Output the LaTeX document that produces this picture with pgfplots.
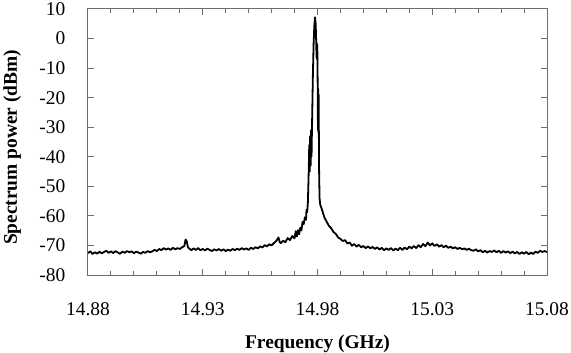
\documentclass[border=0pt]{standalone}
\usepackage{pgfplots}
\pgfplotsset{compat=1.18}
\usepackage{fontspec}
\setmainfont{Liberation Serif}
\begin{document}
\fontsize{19.5}{22}\selectfont
\begin{tikzpicture}
\begin{axis}[
  name=ax, at={(0,0)}, anchor=south west,
  scale only axis, width=459bp, height=266bp,
  xmin=14.88, xmax=15.08, ymin=-80, ymax=10,
  axis line style={draw=gray!85!black, line width=1bp},
  every tick/.style={draw=gray!85!black, line width=1bp},
  tick align=inside,
  xtick={14.88,14.93,14.98,15.03,15.08},
  xticklabels={14.88,14.93,14.98,15.03,15.08},
  minor x tick num=4,
  major tick length=6bp, minor tick length=4.5bp,
  ytick={-80,-70,-60,-50,-40,-30,-20,-10,0,10},
  yticklabels={-80,-70,-60,-50,-40,-30,-20,-10,0,10},
  xtick pos=both, ytick pos=both,
  /pgf/number format/assume math mode=true,
  ticklabel style={font=\fontsize{19.5}{22}\selectfont},
  xticklabel style={yshift=-21bp},
  yticklabel style={xshift=-16bp},
  xlabel={\textbf{Frequency (GHz)}},
  ylabel={\textbf{Spectrum power (dBm)}},
  label style={font=\fontsize{19.5}{22}\selectfont},
  xlabel style={at={(axis description cs:0.5,0)}, anchor=south, yshift=-78bp, inner sep=0pt},
  ylabel style={at={(axis description cs:-0.185,0.48)}, anchor=north, rotate=0, inner sep=0pt},
]
\addplot[black, line width=1.8bp, line join=round] coordinates {
(14.880,-72.6)(14.881,-72.0)(14.882,-72.9)(14.883,-72.3)(14.884,-72.8)(14.885,-72.1)(14.886,-72.7)(14.887,-72.2)(14.888,-71.8)(14.889,-72.5)
(14.890,-72.0)(14.891,-72.6)(14.892,-71.9)(14.893,-72.4)(14.894,-72.8)(14.895,-72.1)(14.896,-72.5)(14.897,-71.9)(14.898,-72.3)(14.899,-72.0)
(14.900,-72.6)(14.901,-72.1)(14.902,-72.4)(14.903,-72.8)(14.904,-72.2)(14.905,-72.5)(14.906,-71.9)(14.907,-72.3)(14.908,-72.0)(14.909,-71.5)
(14.910,-71.9)(14.911,-71.2)(14.912,-71.6)(14.913,-70.9)(14.914,-71.4)(14.915,-71.0)(14.916,-71.5)(14.917,-70.8)(14.918,-71.3)(14.919,-70.9)
(14.920,-71.2)(14.921,-70.6)(14.922,-70.2)(14.9225,-68.0)(14.923,-68.5)(14.9235,-70.5)(14.924,-71.0)(14.925,-71.6)(14.926,-71.0)(14.927,-71.5)
(14.928,-70.9)(14.929,-71.6)(14.930,-71.2)(14.931,-71.7)(14.932,-71.1)(14.933,-71.5)(14.934,-71.9)(14.935,-71.3)(14.936,-71.7)(14.937,-71.2)
(14.938,-71.8)(14.939,-71.3)(14.940,-71.9)(14.941,-71.4)(14.942,-71.8)(14.943,-71.2)(14.944,-71.6)(14.945,-71.1)(14.946,-71.5)(14.947,-70.9)
(14.948,-71.4)(14.949,-71.0)(14.950,-71.5)(14.951,-70.8)(14.952,-71.2)(14.953,-70.6)(14.954,-71.0)(14.955,-70.3)(14.956,-70.7)(14.957,-69.9)
(14.958,-70.3)(14.959,-69.6)(14.960,-70.0)(14.961,-69.2)(14.962,-68.5)(14.963,-67.3)(14.9635,-68.8)(14.964,-69.2)(14.965,-68.4)(14.966,-68.9)
(14.967,-67.5)(14.968,-68.2)(14.969,-66.8)(14.970,-67.6)(14.9705,-65.2)(14.971,-67.0)(14.9715,-64.8)(14.972,-66.2)(14.9725,-64.0)(14.973,-64.9)
(14.9735,-62.0)(14.974,-62.8)(14.9745,-60.5)(14.975,-61.3)(14.9752,-58.0)(14.9755,-58.8)(14.9758,-55.5)(14.9760,-50)
(14.9762,-44)(14.9764,-36)(14.9766,-45)(14.9768,-33)(14.9770,-43)(14.9772,-31)(14.9774,-40)(14.9776,-30)
(14.9780,-12)(14.9783,-2)(14.9786,4)(14.9789,7.2)(14.9792,5)(14.9794,0)
(14.9796,-6.5)(14.9797,-1.5)(14.9798,-7)(14.9799,-2)(14.9800,-9)(14.9801,-18)(14.9802,-31)(14.9803,-17)(14.9804,-32)(14.9805,-19)(14.9806,-33)
(14.9807,-45)(14.9809,-54)(14.9812,-56.3)(14.9818,-57.5)(14.983,-60.5)(14.984,-62.0)(14.985,-63.4)(14.986,-64.2)(14.987,-65.5)(14.988,-66.1)
(14.989,-67.3)(14.990,-67.8)(14.991,-68.5)(14.992,-68.2)(14.993,-69.3)(14.994,-69.0)(14.995,-70.1)(14.996,-69.5)(14.997,-70.4)(14.998,-69.8)
(14.999,-70.6)(15.000,-70.2)(15.001,-70.9)(15.002,-70.3)(15.003,-71.0)(15.004,-70.5)(15.005,-71.2)(15.006,-70.6)(15.007,-71.4)(15.008,-70.8)
(15.009,-71.6)(15.010,-71.0)(15.011,-71.5)(15.012,-70.9)(15.013,-71.7)(15.014,-71.1)(15.015,-71.6)(15.016,-70.8)(15.017,-71.5)(15.018,-70.7)
(15.019,-71.3)(15.020,-70.4)(15.021,-71.0)(15.022,-70.2)(15.023,-70.9)(15.024,-69.9)(15.025,-70.6)(15.026,-69.5)(15.027,-70.3)(15.028,-69.0)
(15.029,-70.0)(15.030,-69.3)(15.031,-70.2)(15.032,-69.6)(15.033,-70.4)(15.034,-69.9)(15.035,-70.6)(15.036,-70.1)(15.037,-70.8)(15.038,-70.4)
(15.039,-71.0)(15.040,-70.6)(15.041,-71.2)(15.042,-70.8)(15.043,-71.3)(15.044,-71.0)(15.045,-71.5)(15.046,-71.1)(15.047,-71.6)(15.048,-71.8)
(15.049,-71.3)(15.050,-72.0)(15.051,-71.6)(15.052,-72.3)(15.053,-71.8)(15.054,-72.4)(15.055,-71.9)(15.056,-72.2)(15.057,-71.7)(15.058,-72.3)
(15.059,-71.8)(15.060,-72.5)(15.061,-71.9)(15.062,-72.4)(15.063,-72.0)(15.064,-72.6)(15.065,-72.1)(15.066,-72.7)(15.067,-72.2)(15.068,-72.9)
(15.069,-72.3)(15.070,-72.8)(15.071,-72.2)(15.072,-73.0)(15.073,-72.4)(15.074,-72.9)(15.075,-72.1)(15.076,-72.5)(15.077,-71.8)(15.078,-72.2)
(15.079,-71.9)(15.080,-72.3)
};
\end{axis}
\pgfresetboundingbox
\path (-88bp,-78bp) rectangle (483bp,275bp);
\end{tikzpicture}
\end{document}
